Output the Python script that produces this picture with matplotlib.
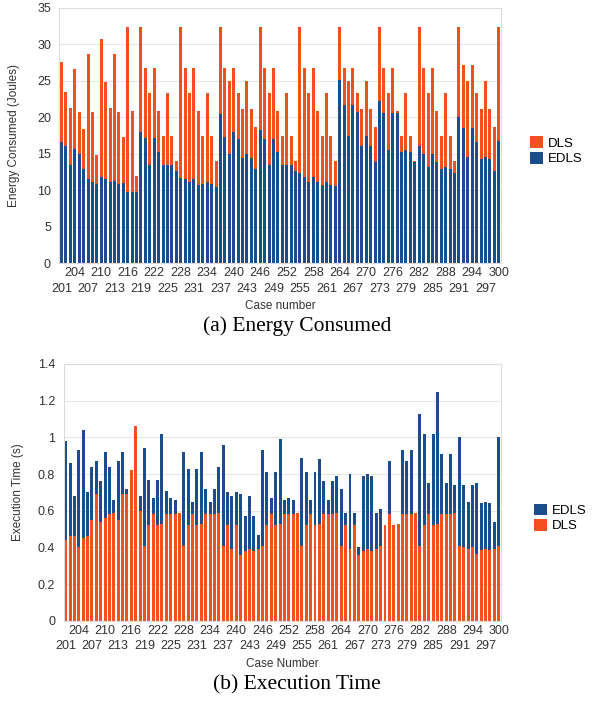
import matplotlib
matplotlib.use("Agg")
import matplotlib.pyplot as plt
import numpy as np

plt.rcParams['font.family'] = ['Liberation Sans', 'DejaVu Sans']

cases = np.arange(201, 301)

# energy consumed (Joules)
energy_dls = [
    27.6, 23.4, 21.2, 26.6, 20.7, 18.4, 28.6, 20.7, 14.8,
    30.7, 24.8, 21.3, 28.6, 20.7, 17.3, 32.4, 20.8, 12.0,
    32.4, 26.7, 23.3, 26.7, 20.8, 17.4, 23.3, 17.4, 14.0,
    32.4, 26.7, 23.3, 26.7, 20.8, 17.4, 23.3, 17.4, 14.0,
    32.4, 26.7, 24.9, 26.7, 23.3, 21.1, 24.9, 21.1, 18.7,
    32.4, 26.7, 23.3, 26.7, 20.8, 17.4, 23.3, 17.4, 14.0,
    32.4, 26.7, 23.3, 26.7, 20.8, 17.4, 23.3, 17.4, 14.0,
    32.4, 26.7, 24.9, 26.7, 23.3, 21.1, 24.9, 21.1, 18.7,
    32.4, 26.7, 23.3, 26.7, 20.8, 17.4, 23.3, 17.4, 14.0,
    32.4, 26.7, 23.3, 26.7, 20.8, 17.4, 23.3, 17.4, 14.0,
    32.4, 27.1, 24.9, 27.1, 23.3, 21.1, 24.9, 21.1, 18.7,
    32.4]
energy_edls = [
    16.6, 16.0, 13.4, 15.6, 15.0, 12.9, 11.5, 11.2, 10.8,
    11.8, 11.6, 11.2, 11.3, 10.8, 11.0, 9.8, 9.8, 9.8,
    18.0, 17.2, 13.5, 17.2, 15.2, 13.5, 13.5, 13.4, 12.7,
    11.7, 11.6, 11.1, 11.6, 10.7, 10.9, 11.1, 10.9, 10.4,
    20.5, 17.3, 15.0, 18.0, 17.0, 14.4, 15.0, 14.4, 12.9,
    18.2, 17.0, 13.4, 17.0, 15.3, 13.4, 13.4, 13.4, 12.6,
    12.3, 11.8, 11.1, 11.8, 11.1, 10.7, 11.1, 10.7, 10.6,
    25.1, 21.7, 17.5, 21.7, 20.7, 16.0, 17.5, 16.0, 13.9,
    22.2, 20.6, 15.5, 20.6, 20.6, 15.2, 15.5, 15.2, 13.9,
    16.0, 15.0, 13.2, 15.0, 13.9, 12.9, 13.2, 12.9, 12.3,
    20.0, 18.5, 14.5, 18.5, 16.6, 14.3, 14.5, 14.3, 12.7,
    16.8]

# execution time (s)
time_edls = [
    0.98, 0.86, 0.68, 0.93, 1.04, 0.70, 0.84, 0.87, 0.76,
    0.92, 0.84, 0.66, 0.87, 0.92, 0.72, 0.80, 1.00, 0.68,
    0.94, 0.77, 0.67, 0.77, 1.02, 0.71, 0.67, 0.66, 0.57,
    0.92, 0.83, 0.65, 0.83, 0.92, 0.72, 0.65, 0.72, 0.84,
    0.96, 0.70, 0.68, 0.70, 0.69, 0.57, 0.68, 0.57, 0.47,
    0.93, 0.81, 0.67, 0.81, 0.99, 0.66, 0.67, 0.66, 0.57,
    0.89, 0.81, 0.66, 0.81, 0.88, 0.76, 0.66, 0.76, 0.79,
    0.72, 0.59, 0.80, 0.59, 0.40, 0.79, 0.80, 0.79, 0.59,
    0.61, 0.50, 0.87, 0.50, 0.51, 0.93, 0.87, 0.93, 0.57,
    1.13, 1.02, 0.75, 1.02, 1.25, 0.91, 0.75, 0.91, 0.74,
    1.00, 0.74, 0.65, 0.74, 0.75, 0.64, 0.65, 0.64, 0.54,
    1.00]
time_dls = [
    0.44, 0.46, 0.46, 0.40, 0.45, 0.46, 0.55, 0.69, 0.54,
    0.56, 0.58, 0.59, 0.55, 0.69, 0.69, 0.82, 1.06, 0.60,
    0.41, 0.52, 0.58, 0.52, 0.53, 0.58, 0.58, 0.58, 0.59,
    0.41, 0.52, 0.58, 0.52, 0.53, 0.58, 0.58, 0.58, 0.59,
    0.41, 0.52, 0.39, 0.52, 0.36, 0.38, 0.39, 0.38, 0.39,
    0.41, 0.52, 0.58, 0.52, 0.53, 0.58, 0.58, 0.58, 0.59,
    0.41, 0.52, 0.58, 0.52, 0.53, 0.58, 0.58, 0.58, 0.59,
    0.41, 0.52, 0.39, 0.52, 0.36, 0.38, 0.39, 0.38, 0.39,
    0.41, 0.52, 0.58, 0.52, 0.53, 0.58, 0.58, 0.58, 0.59,
    0.41, 0.52, 0.58, 0.52, 0.53, 0.58, 0.58, 0.58, 0.59,
    0.41, 0.40, 0.39, 0.40, 0.365, 0.385, 0.39, 0.385, 0.39,
    0.41]

orange = '#F2501F'
blue = '#1B4C8C'
W, H = 596, 702


def style_axes(ax, yticks, ylabels, ylabel, xlabel):
    ax.set_xlim(200.5, 300.5)
    ax.set_yticks(yticks)
    ax.set_yticklabels(ylabels)
    # staggered case labels: upper row as major ticks, lower row as minor
    upper = cases[3::6]
    lower = cases[0::6]
    ax.set_xticks(upper)
    ax.set_xticklabels([str(c) for c in upper])
    ax.set_xticks(lower, minor=True)
    ax.set_xticklabels([str(c) for c in lower], minor=True)
    ax.tick_params(axis='both', which='both', length=0, labelsize=9, labelcolor='#333333')
    ax.tick_params(axis='x', which='major', pad=3)
    ax.tick_params(axis='x', which='minor', pad=14)
    ax.tick_params(axis='y', pad=6)
    ax.yaxis.grid(True, color='#e6e6e6', linewidth=0.8)
    ax.set_axisbelow(True)
    for s in ax.spines.values():
        s.set_color('#dddddd')
        s.set_linewidth(0.8)
    ax.set_ylabel(ylabel, fontsize=8.5, color='#333333')
    ax.set_xlabel(xlabel, fontsize=8.5, color='#333333', labelpad=4)


fig = plt.figure(figsize=(W / 100, H / 100), dpi=100)

# (a) energy
ax1 = fig.add_axes([59.3 / W, 1 - 263.3 / H, (500.9 - 59.3) / W, (263.3 - 7.7) / H])
ax1.bar(cases, energy_dls, width=0.68, color=orange, label='DLS')
ax1.bar(cases, energy_edls, width=0.68, color=blue, label='EDLS')
ax1.set_ylim(0, 35)
style_axes(ax1, range(0, 36, 5), [str(v) for v in range(0, 36, 5)],
           'Energy Consumed (Joules)', 'Case number')
ax1.yaxis.set_label_coords(-0.088, 0.5)
ax1.legend(loc='center left', bbox_to_anchor=(1.05, 0.44), frameon=False,
           fontsize=9.5, handlelength=1.0, handleheight=1.0, handletextpad=0.4,
           labelspacing=0.15, borderpad=0)
fig.text(297 / W, 1 - 326 / H, '(a) Energy Consumed', ha='center', va='center',
         fontsize=15.5, family='Liberation Serif')

# (b) execution time
ax2 = fig.add_axes([63.5 / W, 1 - 620.7 / H, (500.9 - 63.5) / W, (620.7 - 364) / H])
ax2.bar(cases, time_edls, width=0.68, color=blue, label='EDLS')
ax2.bar(cases, time_dls, width=0.68, color=orange, label='DLS')
ax2.set_ylim(0, 1.4)
yt = [0, 0.2, 0.4, 0.6, 0.8, 1.0, 1.2, 1.4]
style_axes(ax2, yt, ['%g' % v for v in yt], 'Execution Time (s)', 'Case Number')
ax2.yaxis.set_label_coords(-0.09, 0.5)
ax2.legend(loc='center left', bbox_to_anchor=(1.06, 0.4), frameon=False,
           fontsize=9.5, handlelength=1.0, handleheight=1.0, handletextpad=0.4,
           labelspacing=0.15, borderpad=0)
fig.text(297 / W, 1 - 685 / H, '(b) Execution Time', ha='center', va='center',
         fontsize=15.5, family='Liberation Serif')

fig.savefig('out.png', dpi=100)
